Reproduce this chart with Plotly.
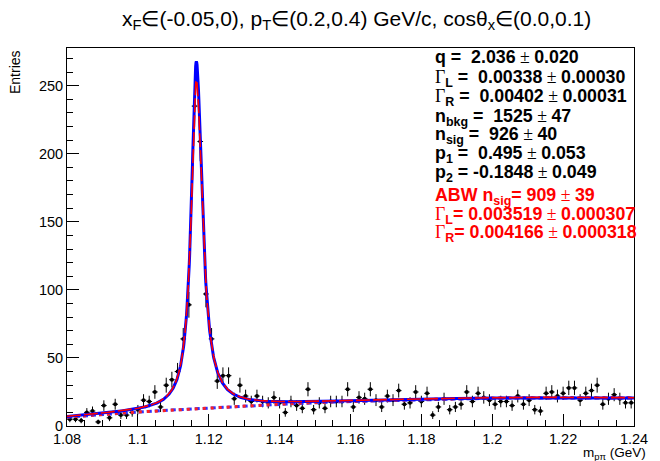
import numpy as np
import plotly.graph_objects as go

# ---------------- data ----------------
x_min, x_max = 1.08, 1.24
n_bins = 100
bin_width = (x_max - x_min) / n_bins
bin_centers = [round(x_min + bin_width * (k + 0.5), 5) for k in range(n_bins)]

counts = [5, 5, 4, 10, 11, 3, 15, 6, 16, 8,
          8, 10, 12, 19, 18, 25, 14, 30, 34, 40,
          64, 89, 235, 209, 97, 64, 33, 37, 37, 20,
          30, 22, 18, 22, 18, 17, 21, 17, 10, 18,
          15, 13, 27, 12, 17, 13, 18, 18, 18, 27,
          14, 21, 20, 27, 19, 14, 22, 19, 26, 16,
          17, 25, 18, 24, 8, 14, 20, 12, 14, 16,
          25, 18, 24, 21, 19, 16, 18, 18, 15, 22,
          16, 19, 12, 11, 24, 25, 22, 24, 28, 28,
          19, 24, 26, 30, 16, 20, 23, 20, 17, 17]

# fit parameters (blue: BW fit, red: ABW fit)
m0 = 1.1165
blue_gamma_L, blue_gamma_R, blue_nsig = 0.00338, 0.00402, 926
red_gamma_L, red_gamma_R, red_nsig = 0.003519, 0.004166, 909
bkg_c0_blue, bkg_c0_red = 18.0, 18.2
bkg_b1, bkg_b2 = 0.389, -0.25

x_ticks = [1.08, 1.10, 1.12, 1.14, 1.16, 1.18, 1.20, 1.22, 1.24]
x_tick_text = ["1.08", "1.1", "1.12", "1.14", "1.16", "1.18", "1.2", "1.22", "1.24"]
y_ticks = [0, 50, 100, 150, 200, 250]

title_text = "x<sub>F</sub>∈(-0.05,0), p<sub>T</sub>∈(0.2,0.4) GeV/c, cosθ<sub>x</sub>∈(0.0,0.1)"

SERIF = '<span style="font-family:Liberation Serif;font-weight:normal">'
G = SERIF + 'Γ</span>'
PM = SERIF + ' ± </span>'
stat_lines_black = [
    "q =  2.036" + PM + "0.020",
    G + "<sub>L</sub> =  0.00338" + PM + "0.00030",
    G + "<sub>R</sub> =  0.00402" + PM + "0.00031",
    "n<sub>bkg</sub> =  1525" + PM + "47",
    "n<sub>sig</sub> =  926" + PM + "40",
    "p<sub>1</sub> =  0.495" + PM + "0.053",
    "p<sub>2</sub> = -0.1848" + PM + "0.049",
]
stat_lines_red = [
    "ABW n<sub>sig</sub>= 909" + PM + "39",
    G + "<sub>L</sub>= 0.003519" + PM + "0.000307",
    G + "<sub>R</sub>= 0.004166" + PM + "0.000318",
]
stat_baselines = [63.3, 85, 103.3, 123.3, 141.7, 160.7, 179.3, 202.7, 221.7, 240]

# ---------------- model curves ----------------
xf = np.linspace(x_min, x_max, 1601)
t = (xf - 0.5 * (x_min + x_max)) / (0.5 * (x_max - x_min))


def bkg(c0):
    return c0 * (1 + bkg_b1 * t + bkg_b2 * t ** 2)


def abw(gl, gr, nsig):
    amp = 4.0 / (np.pi * (gl + gr))
    g = np.where(xf < m0, gl, gr) / 2.0
    return nsig * bin_width * amp / (1 + ((xf - m0) / g) ** 2)


blue_bkg = bkg(bkg_c0_blue)
red_bkg = bkg(bkg_c0_red)
blue_tot = blue_bkg + abw(blue_gamma_L, blue_gamma_R, blue_nsig)
red_tot = red_bkg + abw(red_gamma_L, red_gamma_R, red_nsig)

# ---------------- figure ----------------
W, H = 660, 461
L, R, T, B = 67, 15, 48, 35
PW, PH = W - L - R, H - T - B
y_max = 277.7

FONT = "Liberation Sans, Arial, sans-serif"

fig = go.Figure()

fig.add_trace(go.Scatter(
    x=bin_centers, y=counts, mode="markers",
    marker=dict(color="black", size=4),
    error_y=dict(type="data", array=list(np.sqrt(counts)), color="black", thickness=1, width=0),
    error_x=dict(type="constant", value=bin_width / 2, color="black", thickness=1, width=0),
    showlegend=False, hoverinfo="skip"))

fig.add_trace(go.Scatter(x=xf, y=blue_bkg, mode="lines",
                         line=dict(color="#3030ff", width=3, dash="5px,3px"), showlegend=False))
fig.add_trace(go.Scatter(x=xf, y=red_bkg, mode="lines",
                         line=dict(color="#ff2020", width=3, dash="3px,5px"), showlegend=False))
fig.add_trace(go.Scatter(x=xf, y=blue_tot, mode="lines",
                         line=dict(color="#0000ff", width=3), showlegend=False))
fig.add_trace(go.Scatter(x=xf, y=red_tot, mode="lines",
                         line=dict(color="#ff0000", width=1.6, dash="14px,3px"), showlegend=False))


def xp(px):
    return (px - L) / PW


def yp(py):
    return (H - B - py) / PH


annotations = [
    dict(text=title_text, x=xp(362), y=yp(20), xref="paper", yref="paper",
         xanchor="center", yanchor="middle", showarrow=False,
         font=dict(family=FONT, size=21, color="black")),
    dict(text="Entries", x=xp(14), y=yp(48), xref="paper", yref="paper",
         xanchor="center", yanchor="top", textangle=-90, showarrow=False,
         font=dict(family=FONT, size=14, color="black")),
    dict(text="m<sub>pπ</sub> (GeV)", x=xp(659), y=yp(453), xref="paper", yref="paper",
         xanchor="right", yanchor="middle", showarrow=False,
         font=dict(family=FONT, size=13.5, color="black")),
]

fs = 17.8
lines = [(s, "black") for s in stat_lines_black] + [(s, "#ff0000") for s in stat_lines_red]
for (s, col), base in zip(lines, stat_baselines):
    annotations.append(dict(
        text="<b>" + s + "</b>", x=xp(440), y=yp(base - 0.35 * fs), xref="paper", yref="paper",
        xanchor="left", yanchor="middle", showarrow=False,
        font=dict(family=FONT, size=fs, color=col)))

fig.update_layout(
    width=W, height=H,
    margin=dict(l=L, r=R, t=T, b=B, pad=0),
    paper_bgcolor="white", plot_bgcolor="white",
    annotations=annotations,
    font=dict(family=FONT, size=14, color="black"),
)

fig.update_xaxes(
    range=[x_min, x_max], tickvals=x_ticks, ticktext=x_tick_text,
    ticks="inside", ticklen=12, tickwidth=1, tickcolor="black",
    minor=dict(dtick=0.005, tick0=1.08, ticks="inside", ticklen=6, tickwidth=1, tickcolor="black"),
    showline=True, linecolor="black", linewidth=1, mirror=True,
    showgrid=False, zeroline=False,
    tickfont=dict(family=FONT, size=14.5, color="black"))
fig.update_yaxes(
    range=[0, y_max], tickvals=y_ticks,
    ticks="inside", ticklen=12, tickwidth=1, tickcolor="black",
    minor=dict(dtick=10, tick0=0, ticks="inside", ticklen=6, tickwidth=1, tickcolor="black"),
    showline=True, linecolor="black", linewidth=1, mirror=True,
    showgrid=False, zeroline=False,
    tickfont=dict(family=FONT, size=14.5, color="black"))

fig.write_html("out.html")
